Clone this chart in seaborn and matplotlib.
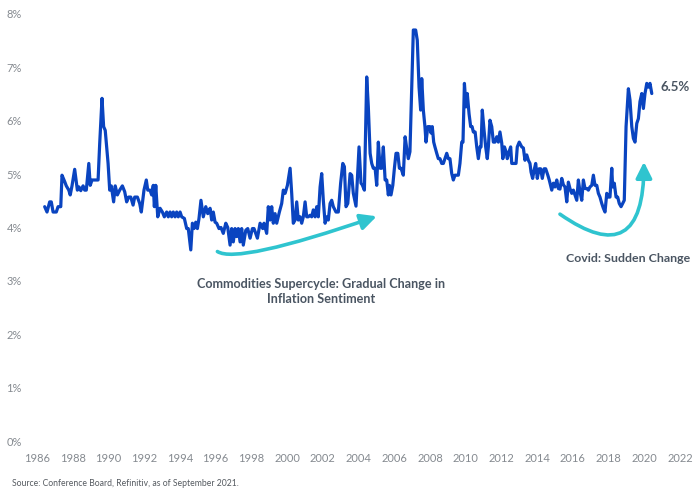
import numpy as np
import pandas as pd
import matplotlib
matplotlib.use("Agg")
import matplotlib.pyplot as plt
import seaborn as sns

# ---------------------------------------------------------------------------
# Data: inflation expectations (%)
# ---------------------------------------------------------------------------
years = [
    1986.43, 1986.56, 1986.71, 1986.80, 1986.90, 1987.08, 1987.18, 1987.33, 1987.40, 1987.55,
    1987.64, 1987.78, 1987.86, 1987.96, 1988.11, 1988.26, 1988.35, 1988.45, 1988.58, 1988.67,
    1988.76, 1988.90, 1988.98, 1989.08, 1989.32, 1989.42, 1989.51, 1989.64, 1989.73, 1989.82,
    1989.98, 1990.07, 1990.16, 1990.29, 1990.38, 1990.50, 1990.63, 1990.78, 1990.91, 1991.02,
    1991.13, 1991.25, 1991.38, 1991.47, 1991.62, 1991.75, 1991.84, 1991.99, 1992.12, 1992.20,
    1992.33, 1992.42, 1992.51, 1992.57, 1992.65, 1992.76, 1992.89, 1993.02, 1993.13, 1993.26,
    1993.35, 1993.45, 1993.54, 1993.63, 1993.73, 1993.82, 1993.91, 1994.01, 1994.10, 1994.25,
    1994.38, 1994.47, 1994.61, 1994.70, 1994.79, 1994.89, 1994.98, 1995.07, 1995.18, 1995.31,
    1995.45, 1995.56, 1995.69, 1995.78, 1995.87, 1995.97, 1996.06, 1996.19, 1996.30, 1996.43,
    1996.57, 1996.68, 1996.81, 1996.90, 1996.99, 1997.09, 1997.18, 1997.27, 1997.37, 1997.46,
    1997.55, 1997.69, 1997.80, 1997.93, 1998.06, 1998.15, 1998.34, 1998.49, 1998.64, 1998.71,
    1998.86, 1998.95, 1999.05, 1999.14, 1999.23, 1999.33, 1999.42, 1999.57, 1999.70, 1999.79,
    1999.89, 2000.02, 2000.17, 2000.26, 2000.35, 2000.45, 2000.54, 2000.63, 2000.73, 2000.82,
    2000.91, 2001.01, 2001.10, 2001.19, 2001.29, 2001.38, 2001.47, 2001.57, 2001.66, 2001.75,
    2001.85, 2001.94, 2002.03, 2002.13, 2002.22, 2002.31, 2002.41, 2002.50, 2002.59, 2002.74,
    2002.87, 2003.00, 2003.12, 2003.21, 2003.30, 2003.40, 2003.53, 2003.62, 2003.71, 2003.86,
    2004.03, 2004.14, 2004.21, 2004.33, 2004.46, 2004.55, 2004.65, 2004.74, 2004.83, 2004.93,
    2005.02, 2005.11, 2005.21, 2005.30, 2005.39, 2005.49, 2005.58, 2005.67, 2005.73, 2005.82,
    2005.92, 2006.01, 2006.10, 2006.20, 2006.29, 2006.38, 2006.51, 2006.61, 2006.70, 2006.79,
    2006.88, 2006.98, 2007.07, 2007.20, 2007.29, 2007.39, 2007.48, 2007.54, 2007.63, 2007.72,
    2007.78, 2007.88, 2008.00, 2008.06, 2008.13, 2008.21, 2008.28, 2008.38, 2008.47, 2008.56,
    2008.66, 2008.75, 2008.84, 2008.94, 2009.03, 2009.12, 2009.22, 2009.31, 2009.40, 2009.50,
    2009.59, 2009.68, 2009.78, 2009.85, 2009.93, 2010.02, 2010.09, 2010.19, 2010.28, 2010.36,
    2010.43, 2010.53, 2010.62, 2010.71, 2010.80, 2010.86, 2010.93, 2011.03, 2011.12, 2011.21,
    2011.27, 2011.36, 2011.46, 2011.55, 2011.64, 2011.74, 2011.83, 2011.92, 2012.02, 2012.08,
    2012.17, 2012.26, 2012.33, 2012.43, 2012.52, 2012.58, 2012.67, 2012.82, 2012.89, 2013.00,
    2013.14, 2013.23, 2013.32, 2013.42, 2013.51, 2013.60, 2013.66, 2013.75, 2013.83, 2013.92,
    2014.01, 2014.11, 2014.20, 2014.29, 2014.39, 2014.48, 2014.60, 2014.68, 2014.82, 2014.91,
    2015.00, 2015.10, 2015.19, 2015.28, 2015.38, 2015.47, 2015.56, 2015.66, 2015.75, 2015.84,
    2015.94, 2016.03, 2016.12, 2016.22, 2016.31, 2016.40, 2016.50, 2016.59, 2016.68, 2016.78,
    2016.87, 2016.96, 2017.06, 2017.15, 2017.24, 2017.34, 2017.43, 2017.52, 2017.62, 2017.71,
    2017.80, 2017.90, 2017.99, 2018.08, 2018.18, 2018.23, 2018.32, 2018.42, 2018.51, 2018.60,
    2018.70, 2018.79, 2018.88, 2018.98, 2019.11, 2019.20, 2019.30, 2019.39, 2019.48, 2019.58,
    2019.67, 2019.76, 2019.86, 2019.95, 2020.04, 2020.14, 2020.23, 2020.32, 2020.42,
]
expectation = [
    4.39, 4.29, 4.48, 4.48, 4.29, 4.29, 4.39, 4.39, 4.98, 4.86,
    4.78, 4.70, 4.61, 4.78, 5.09, 4.70, 4.76, 4.69, 4.78, 4.70,
    4.70, 5.20, 4.79, 4.89, 4.89, 4.89, 5.57, 6.42, 5.89, 5.82,
    5.20, 4.70, 4.78, 4.48, 4.78, 4.61, 4.70, 4.78, 4.67, 4.48,
    4.57, 4.57, 4.42, 4.57, 4.57, 4.45, 4.29, 4.70, 4.89, 4.70,
    4.70, 4.61, 4.79, 4.39, 4.79, 4.20, 4.36, 4.29, 4.20, 4.29,
    4.20, 4.29, 4.20, 4.29, 4.20, 4.29, 4.20, 4.29, 4.20, 4.17,
    3.98, 3.98, 3.58, 4.08, 3.98, 4.10, 3.98, 4.17, 4.51, 4.20,
    4.39, 4.26, 4.36, 4.14, 4.29, 4.10, 4.08, 3.98, 4.00, 3.89,
    4.08, 4.00, 3.67, 3.98, 3.73, 3.98, 3.83, 3.98, 3.73, 3.98,
    3.67, 3.95, 3.98, 3.80, 3.98, 3.98, 3.80, 4.08, 3.98, 4.08,
    3.89, 4.39, 4.14, 4.39, 4.08, 4.26, 4.08, 4.29, 4.45, 4.70,
    4.64, 4.79, 5.11, 4.64, 4.08, 4.14, 4.48, 4.14, 4.20, 4.08,
    4.20, 4.48, 4.20, 4.20, 4.23, 4.20, 4.33, 4.20, 4.39, 4.20,
    4.76, 5.01, 4.51, 4.08, 4.20, 4.14, 4.45, 4.51, 4.39, 4.29,
    4.29, 4.83, 5.20, 5.14, 4.39, 4.45, 5.01, 4.98, 4.64, 4.40,
    5.51, 4.83, 4.80, 4.70, 6.82, 6.26, 5.39, 5.20, 5.11, 5.11,
    4.79, 5.60, 5.11, 5.11, 5.51, 4.89, 4.89, 4.61, 4.79, 4.61,
    4.79, 5.11, 5.39, 5.39, 5.11, 5.11, 4.98, 5.70, 5.48, 5.29,
    5.42, 6.63, 7.70, 7.70, 7.51, 6.63, 6.20, 6.79, 6.20, 5.89,
    5.60, 5.89, 5.89, 5.77, 5.89, 5.60, 5.51, 5.39, 5.29, 5.29,
    5.20, 5.20, 5.29, 5.39, 5.29, 5.29, 5.01, 4.89, 4.98, 4.98,
    4.98, 5.20, 5.60, 5.60, 6.70, 6.26, 6.51, 6.13, 5.89, 5.89,
    5.79, 5.79, 5.51, 5.29, 5.51, 5.51, 6.20, 5.82, 5.51, 5.29,
    5.51, 6.01, 5.89, 5.60, 5.60, 5.70, 5.60, 5.79, 5.58, 5.29,
    5.51, 5.42, 5.29, 5.42, 5.51, 5.20, 5.20, 5.20, 5.51, 5.60,
    5.51, 5.49, 5.26, 5.36, 5.26, 5.20, 5.04, 4.92, 5.07, 5.20,
    4.92, 5.10, 5.10, 4.92, 5.10, 5.10, 4.98, 4.89, 4.70, 4.83,
    4.76, 4.89, 4.73, 4.72, 4.92, 4.80, 4.76, 4.48, 4.85, 4.73,
    4.64, 4.70, 4.61, 4.51, 4.89, 4.67, 4.51, 4.89, 4.73, 4.73,
    4.70, 4.76, 4.79, 4.98, 4.79, 4.79, 4.64, 4.57, 4.45, 4.36,
    4.29, 4.64, 4.57, 4.57, 5.11, 4.76, 4.83, 4.57, 4.57, 4.45,
    4.39, 4.45, 4.51, 5.89, 6.60, 6.39, 5.89, 5.67, 5.60, 5.95,
    6.04, 6.36, 6.51, 6.23, 6.51, 6.70, 6.63, 6.70, 6.51,
]

x_ticks = list(range(1986, 2023, 2))
y_ticks = list(range(0, 9))

# annotation arrows (start, end) in data units
supercycle_arrow = ((1996.10, 3.55), (2005.02, 4.21))
covid_arrow = ((2015.28, 4.25), (2019.98, 5.23))

df = pd.DataFrame({"year": years, "expectation": expectation})

LINE_BLUE = "#0a44c0"
ARROW_CYAN = "#2fc4cf"
TEXT_DARK = "#4a5562"
TICK_GRAY = "#858a90"

sns.set_theme(style="white")
plt.rcParams["font.family"] = ["Lato", "DejaVu Sans"]

fig = plt.figure(figsize=(7, 5), dpi=100)
ax = fig.add_axes([37 / 700, 1 - 441 / 500, (680 - 37) / 700, (441 - 14) / 500])

sns.lineplot(data=df, x="year", y="expectation", ax=ax, color=LINE_BLUE,
             linewidth=2.3, estimator=None, sort=False)

ax.set_xlim(1986, 2022)
ax.set_ylim(0, 8)
ax.set_xticks(x_ticks)
ax.set_xticklabels([str(y) for y in x_ticks])
ax.set_yticks(y_ticks)
ax.set_yticklabels([f"{y}%" for y in y_ticks])
ax.tick_params(axis="both", length=0, labelsize=8, labelcolor=TICK_GRAY)
ax.tick_params(axis="y", pad=11)
ax.tick_params(axis="x", pad=9)
ax.set_xlabel("")
ax.set_ylabel("")
for s in ax.spines.values():
    s.set_visible(False)
ax.grid(False)

# curved arrows
arrow_style = "-|>,head_length=0.8,head_width=0.4"
ax.annotate("", xy=supercycle_arrow[1], xytext=supercycle_arrow[0],
            arrowprops=dict(arrowstyle=arrow_style, color=ARROW_CYAN, lw=2.6,
                            shrinkA=0, shrinkB=0,
                            connectionstyle="angle3,angleA=-33,angleB=19"))
ax.annotate("", xy=covid_arrow[1], xytext=covid_arrow[0],
            arrowprops=dict(arrowstyle=arrow_style, color=ARROW_CYAN, lw=2.6,
                            shrinkA=0, shrinkB=0,
                            connectionstyle="angle3,angleA=-35,angleB=90"))

ax.text(2001.9, 2.8, "Commodities Supercycle: Gradual Change in\nInflation Sentiment",
        ha="center", va="center", fontsize=9.1, fontweight="bold",
        color=TEXT_DARK, linespacing=1.3)
ax.text(2019.1, 3.42, "Covid: Sudden Change", ha="center", va="center",
        fontsize=8.9, fontweight="bold", color=TEXT_DARK, clip_on=False)

ax.annotate(f"{expectation[-1]:.1f}%", xy=(years[-1], expectation[-1]),
            xytext=(6, 5), textcoords="offset points", ha="left", va="center",
            fontsize=9.5, fontweight="bold", color=TEXT_DARK, annotation_clip=False)

fig.text(12 / 700, 1 - 483 / 500, "Source: Conference Board, Refinitiv, as of September 2021.",
         ha="left", va="center", fontsize=6.2, color="#555a60")

fig.savefig("out.png", dpi=100)
